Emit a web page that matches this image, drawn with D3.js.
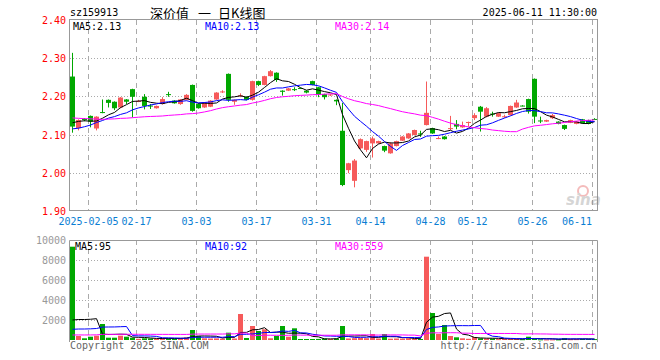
<!DOCTYPE html>
<html>
<head>
<meta charset="utf-8">
<script src="https://cdn.jsdelivr.net/npm/d3@7"></script>
<style>
body { margin: 0; background: #fff; }
svg { display: block; }
text { font-family: "DejaVu Sans Mono", monospace; font-size: 10px; }
</style>
</head>
<body>
<svg id="chart" width="660" height="360"></svg>
<script>
// ---------- data
var openP = [2.252,2.117,2.141,2.149,2.116,2.159,2.191,2.186,2.171,2.192,2.219,2.186,2.199,2.176,2.169,2.180,2.206,2.189,2.180,2.191,
  2.230,2.180,2.171,2.173,2.192,2.211,2.259,2.186,2.201,2.199,2.191,2.240,2.230,2.253,2.262,2.215,2.215,2.219,2.222,2.215,
  2.240,2.224,2.206,2.203,2.191,2.110,2.007,1.979,2.064,2.060,2.077,2.077,2.070,2.051,2.070,2.084,2.090,2.099,2.103,2.125,
  2.117,2.089,2.095,2.115,2.128,2.119,2.131,2.143,2.173,2.147,2.155,2.147,2.146,2.151,2.171,2.176,2.193,2.246,2.137,2.134,
  2.143,2.134,2.125,2.131,2.128,2.140,2.138,2.141];
var highP = [2.314,2.140,2.143,2.150,2.148,2.192,2.192,2.187,2.198,2.193,2.220,2.191,2.206,2.180,2.176,2.198,2.212,2.190,2.193,2.206,
  2.231,2.182,2.185,2.190,2.211,2.216,2.260,2.192,2.208,2.200,2.241,2.241,2.254,2.269,2.263,2.216,2.222,2.224,2.223,2.216,
  2.241,2.225,2.207,2.206,2.192,2.183,2.026,2.036,2.090,2.084,2.095,2.084,2.071,2.080,2.084,2.096,2.104,2.113,2.110,2.239,
  2.118,2.095,2.096,2.149,2.138,2.134,2.134,2.156,2.175,2.172,2.160,2.157,2.152,2.176,2.191,2.177,2.194,2.247,2.147,2.139,
  2.154,2.135,2.126,2.139,2.135,2.141,2.139,2.143];
var lowP = [2.105,2.111,2.135,2.119,2.111,2.156,2.171,2.164,2.169,2.180,2.145,2.185,2.166,2.167,2.168,2.179,2.199,2.181,2.178,2.190,
  2.160,2.168,2.170,2.172,2.191,2.209,2.186,2.178,2.198,2.190,2.189,2.227,2.229,2.252,2.238,2.202,2.214,2.214,2.220,2.208,
  2.229,2.198,2.192,2.201,2.177,1.965,1.999,1.962,2.062,2.055,2.040,2.076,2.054,2.050,2.069,2.083,2.089,2.098,2.094,2.124,
  2.102,2.088,2.087,2.112,2.114,2.118,2.121,2.138,2.108,2.145,2.147,2.146,2.144,2.150,2.170,2.174,2.155,2.130,2.130,2.133,
  2.141,2.127,2.112,2.130,2.127,2.129,2.127,2.139];
var closeP = [2.121,2.138,2.138,2.134,2.147,2.157,2.183,2.169,2.197,2.186,2.199,2.188,2.175,2.174,2.175,2.193,2.205,2.182,2.192,2.204,
  2.162,2.169,2.184,2.189,2.210,2.213,2.191,2.191,2.203,2.191,2.240,2.230,2.253,2.266,2.243,2.212,2.221,2.217,2.221,2.210,
  2.230,2.204,2.198,2.205,2.187,1.968,2.025,2.032,2.088,2.083,2.090,2.083,2.058,2.077,2.083,2.095,2.103,2.112,2.101,2.157,
  2.103,2.091,2.088,2.117,2.121,2.125,2.133,2.151,2.160,2.169,2.153,2.156,2.148,2.175,2.184,2.175,2.160,2.147,2.135,2.138,
  2.151,2.128,2.115,2.138,2.134,2.130,2.128,2.140];
var volume = [9330,400,170,330,430,1600,230,230,430,330,230,120,170,150,120,200,150,130,200,250,
  1000,400,170,150,160,140,730,150,2600,200,1400,900,1070,170,400,1400,330,1170,100,100,
  100,110,150,100,150,1400,150,180,200,180,600,150,600,130,150,140,180,120,100,8330,
  2700,600,1500,400,270,170,120,300,170,150,130,90,100,110,100,80,330,100,70,55,
  60,60,200,80,90,110,100,95];

// sessions before the first bar, only used to warm up the moving averages
var priorClose = [2.17,2.16,2.15,2.17,2.18,2.16,2.15,2.16,2.17,2.16,2.15,2.14,2.15,2.16,2.17,2.16,2.15,2.16,2.15,2.14,
  2.12,2.10,2.09,2.08,2.105,2.12,2.13,2.14,2.144];
var priorVolume = [250,200,230,180,210,260,190,220,240,200,210,230,190,220,200,240,210,190,220,210,
  120,160,150,130,140,150,180,200,140];

var tickIdx = [3, 11, 21, 31, 41, 50, 60, 67, 77, 87];
var tickLabels = ["2025-02-05", "02-17", "03-03", "03-17", "03-31", "04-14", "04-28", "05-12", "05-26", "06-11"];
var priceTicks = [2.40, 2.30, 2.20, 2.10, 2.00, 1.90];
var volTicks = [10000, 8000, 6000, 4000, 2000];
var maDays = [5, 10, 30];
var maColors = ["#000000", "#0000ff", "#ff00ff"];

var symbol = "sz159913";
var titleParts = ["深价值", "一", "日K线图"];
var stamp = "2025-06-11 11:30:00";

// ---------- scales
var upColor = "#f65a5a", downColor = "#00a800", gridColor = "#aaaaaa", boxColor = "#999999";

var n = closeP.length;
var x = d3.scaleLinear().domain([0, n]).range([70, 598]);
var yP = d3.scaleLinear().domain([1.9, 2.4]).range([211, 20]);
var yV = d3.scaleLinear().domain([0, 10000]).range([340, 240]);

function movingAvg(series, prior, days)
{
	var all = prior.concat(series);
	return series.map((_, i) =>
	{
		var end = prior.length + i;
		return d3.mean(all.slice(end - days + 1, end + 1));
	});
}

var svg = d3.select("#chart");

svg.append("defs").append("clipPath").attr("id", "clipP")
	.append("rect").attr("x", 70).attr("y", 20).attr("width", 528).attr("height", 191);
svg.select("defs").append("clipPath").attr("id", "clipV")
	.append("rect").attr("x", 70).attr("y", 240).attr("width", 528).attr("height", 101);

// ---------- header
svg.append("text").attr("x", 70).attr("y", 16).text(symbol);
var titleX = [150, 198, 218];
titleParts.forEach((t, k) =>
{
	svg.append("text").attr("x", titleX[k]).attr("y", 18)
		.style("font-family", "'Noto Sans CJK SC', sans-serif").style("font-size", "13px").text(t);
});
svg.append("text").attr("x", 597).attr("y", 16).attr("text-anchor", "end").text(stamp);

// ---------- grids
var gridP = svg.append("g");
gridP.selectAll("line.h").data(priceTicks.slice(1, -1)).enter().append("line")
	.attr("x1", 70).attr("x2", 597)
	.attr("y1", d => Math.round(yP(d)) + 0.5).attr("y2", d => Math.round(yP(d)) + 0.5)
	.attr("stroke", gridColor).attr("stroke-dasharray", "1,2");
gridP.selectAll("line.v").data(tickIdx).enter().append("line")
	.attr("x1", d => x(d) + 0.5).attr("x2", d => x(d) + 0.5)
	.attr("y1", 20).attr("y2", 211)
	.attr("stroke", gridColor).attr("stroke-dasharray", "5,4");

var gridV = svg.append("g");
gridV.selectAll("line.h").data(volTicks.slice(1)).enter().append("line")
	.attr("x1", 70).attr("x2", 597)
	.attr("y1", d => Math.round(yV(d)) + 0.5).attr("y2", d => Math.round(yV(d)) + 0.5)
	.attr("stroke", gridColor).attr("stroke-dasharray", "1,2");
gridV.selectAll("line.v").data(tickIdx).enter().append("line")
	.attr("x1", d => x(d) + 0.5).attr("x2", d => x(d) + 0.5)
	.attr("y1", 240).attr("y2", 340)
	.attr("stroke", gridColor).attr("stroke-dasharray", "5,4");

// ---------- boxes
svg.append("rect").attr("x", 69.5).attr("y", 19.5).attr("width", 528).attr("height", 191)
	.attr("fill", "none").attr("stroke", boxColor);
svg.append("path").attr("d", "M69.5,342V240.5H597.5V342")
	.attr("fill", "none").attr("stroke", boxColor);

// ---------- axis labels
svg.append("g").selectAll("text").data(priceTicks).enter().append("text")
	.attr("x", 66).attr("y", d => yP(d) + 4).attr("text-anchor", "end")
	.attr("fill", "#ff0000").text(d => d.toFixed(2));

svg.append("g").selectAll("text").data(volTicks).enter().append("text")
	.attr("x", 66).attr("y", d => yV(d) + 4).attr("text-anchor", "end")
	.attr("fill", "#999999").text(d => d);

svg.append("g").selectAll("text").data(tickIdx).enter().append("text")
	.attr("x", (d, i) => Math.min(x(d) + 0.5, 597 - tickLabels[i].length * 3 - 5))
	.attr("y", 225).attr("text-anchor", "middle")
	.attr("fill", "#0a7ed3").text((d, i) => tickLabels[i]);

// ---------- candles
var candles = svg.append("g").attr("clip-path", "url(#clipP)");
var idx = d3.range(n);
var isUp = i => closeP[i] >= openP[i];

candles.selectAll("line").data(idx).enter().append("line")
	.attr("x1", i => x(i) + 2.5).attr("x2", i => x(i) + 2.5)
	.attr("y1", i => yP(highP[i])).attr("y2", i => yP(lowP[i]))
	.attr("stroke", i => isUp(i) ? upColor : downColor);

candles.selectAll("rect").data(idx).enter().append("rect")
	.attr("x", i => x(i)).attr("width", 5)
	.attr("y", i => yP(Math.max(openP[i], closeP[i])))
	.attr("height", i => Math.max(1, Math.abs(yP(openP[i]) - yP(closeP[i]))))
	.attr("fill", i => isUp(i) ? upColor : downColor);

// ---------- volume bars
svg.append("g").selectAll("rect").data(idx).enter().append("rect")
	.attr("x", i => x(i)).attr("width", 5)
	.attr("y", i => yV(volume[i]))
	.attr("height", i => Math.max(1, yV(0) - yV(volume[i])))
	.attr("fill", i => isUp(i) ? upColor : downColor);

// ---------- moving averages
var priceMA = maDays.map(d => movingAvg(closeP, priorClose, d));
var volMA = maDays.map(d => movingAvg(volume, priorVolume, d));

var lineP = d3.line().x((d, i) => x(i) + 2.5).y(d => yP(d));
var lineV = d3.line().x((d, i) => x(i) + 2.5).y(d => yV(d));

var maP = svg.append("g").attr("clip-path", "url(#clipP)");
priceMA.forEach((s, k) =>
{
	maP.append("path").attr("d", lineP(s)).attr("fill", "none")
		.attr("stroke", maColors[k]).attr("stroke-width", 1);
});
var maV = svg.append("g").attr("clip-path", "url(#clipV)");
volMA.forEach((s, k) =>
{
	maV.append("path").attr("d", lineV(s)).attr("fill", "none")
		.attr("stroke", maColors[k]).attr("stroke-width", 1);
});

// ---------- MA legends
var legendX = [73, 205, 335];
maDays.forEach((d, k) =>
{
	svg.append("text").attr("x", legendX[k]).attr("y", 30).attr("fill", maColors[k])
		.text(`MA${d}:${priceMA[k][n - 1].toFixed(2)}`);
	svg.append("text").attr("x", legendX[k] + (k == 0 ? 2 : 0)).attr("y", 250).attr("fill", maColors[k])
		.text(`MA${d}:${Math.round(volMA[k][n - 1])}`);
});

// ---------- footer + watermark
svg.append("text").attr("x", 70).attr("y", 349).attr("fill", "#666").text("Copyright 2025 SINA.COM");
svg.append("text").attr("x", 597).attr("y", 349).attr("text-anchor", "end").attr("fill", "#666").text("http://finance.sina.com.cn");

var mark = svg.append("g").attr("opacity", 0.35);
mark.append("circle").attr("cx", 583).attr("cy", 191).attr("r", 5).attr("fill", "none").attr("stroke", "#e04040").attr("stroke-width", 2);
mark.append("text").attr("x", 566).attr("y", 205)
	.style("font-family", "'DejaVu Sans', sans-serif").style("font-size", "15px")
	.style("font-style", "italic").style("font-weight", "bold").attr("fill", "#888").text("sina");
</script>
</body>
</html>
